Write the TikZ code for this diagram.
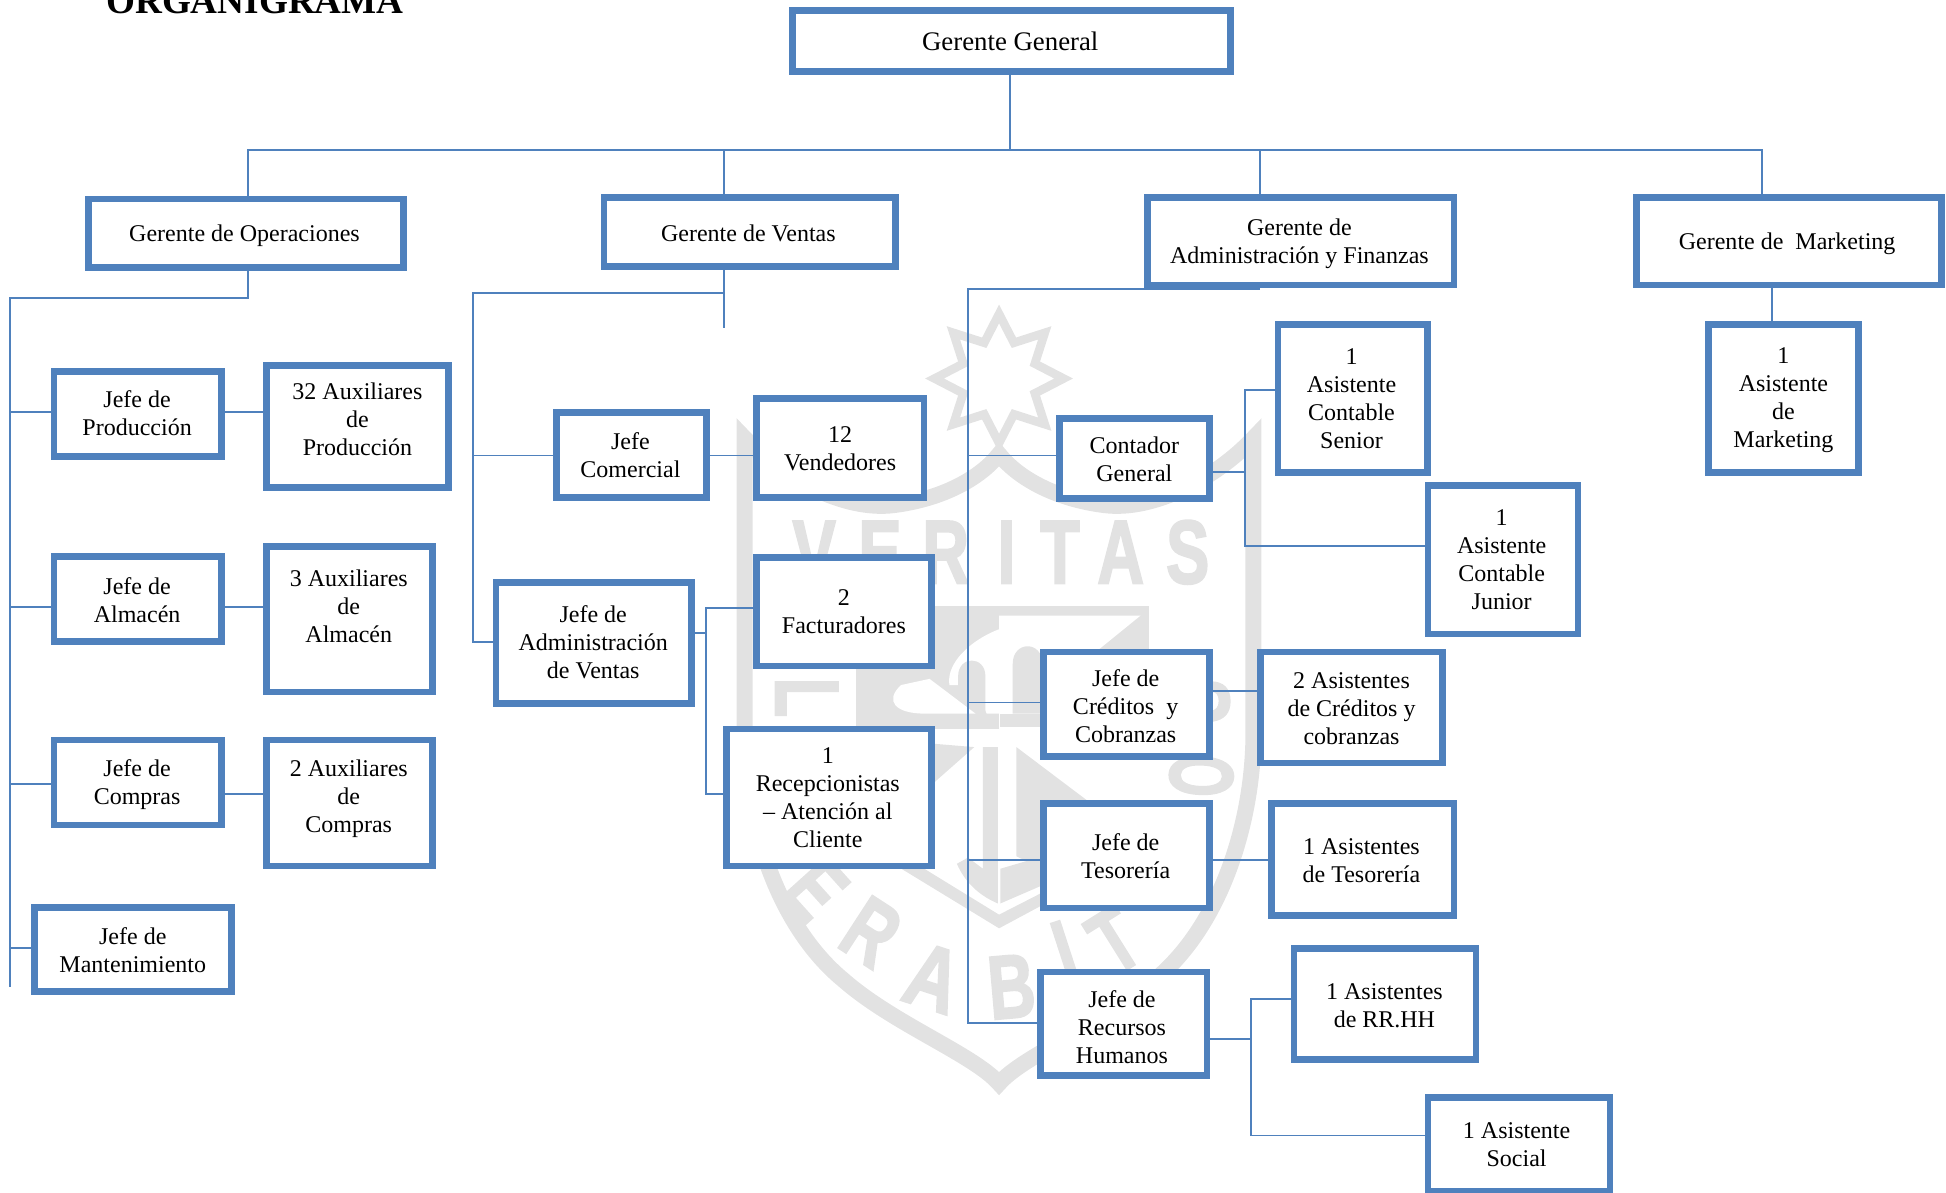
\documentclass[tikz,border=0pt]{standalone}
\usepackage{fontspec}
\setmainfont{Liberation Serif}
\newfontfamily\wmfont{Liberation Sans}[BoldFeatures={FakeBold=2.5}]
\usetikzlibrary{calc}
\definecolor{boxblue}{HTML}{4F81BD}
\definecolor{wmgray}{HTML}{E2E2E2}
\tikzset{
  orgbox/.style={draw=boxblue,line width=3.3pt,fill=white,rectangle,inner sep=0pt,outer sep=0pt},
  orgtext/.style={inner sep=0pt,outer sep=0pt,align=center,text=black,font=\fontsize{12}{14}\selectfont},
  link/.style={draw=boxblue,line width=0.9pt,line join=miter},
  wmline/.style={draw=wmgray,line width=8pt,miter limit=20},
  wmfill/.style={fill=wmgray,draw=none},
  wmwhite/.style={fill=white,draw=none},
  wmletter/.style={text=wmgray,inner sep=0pt,font=\wmfont\bfseries\fontsize{45}{45}\selectfont},
}
% name, left, top, right, bottom, text x, text y, text
\newcommand{\orgbx}[8]{%
  \node[orgbox,minimum width={(#4-#2-1.2)*0.6205pt},minimum height={(#5-#3-0.6)*0.6205pt}] (#1) at ({(#2+#4)/2},{(#3+#5)/2}) {};
  \node[orgtext] (#1t) at (#6,#7+0.7) {#8};
}
\begin{document}
\begin{tikzpicture}[x=0.6205pt,y=-0.6205pt]
\useasboundingbox (0,0) rectangle (1568,960.6);
\clip (0,0) rectangle (1568,960.6);
% ---- watermark ----
\draw[wmline] (600,353) .. controls (630,385) and (680,412) .. (720,407)
  .. controls (760,402) and (790,385) .. (805,366)
  .. controls (820,385) and (850,402) .. (890,407)
  .. controls (930,412) and (980,385) .. (1010,353) -- (1010,590)
  .. controls (1010,660) and (985,745) .. (930,790)
  .. controls (890,825) and (825,850) .. (805,873)
  .. controls (785,850) and (720,825) .. (680,790)
  .. controls (625,745) and (600,660) .. (600,590) -- cycle;
\draw[draw=wmgray,line width=4.3pt,miter limit=10,shift={(805,305)},scale=1.04,shift={(-805,-305)}]
  (805,255) -- (816.5,277.3) -- (840.4,269.6) -- (832.7,293.5) -- (855,305) -- (832.7,316.5) -- (840.4,340.4) -- (816.5,332.7)
  -- (805,355) -- (793.5,332.7) -- (769.6,340.4) -- (777.3,316.5) -- (755,305) -- (777.3,293.5) -- (769.6,269.6) -- (793.5,277.3) -- cycle;
\foreach \n/\px/\py/\r/\l/\sc in {
  a/656/445/0/V/.72, b/709/445/0/E/.72, c/762/445/0/R/.72, d/811/445/0/I/.72, e/854/445/0/T/.72, f/903/445/0/A/.72, g/957/445/0/S/.72,
  h/650/562/-90/L/.72, i/657/717/-48/E/.72, j/702/751/-33/R/.72, k/752/788/-18/A/.8, l/815/795/5/B/.72, m/858/767/18/I/.72, n/898/758/32/T/.72,
  o/968/625/88/O/.6, p/965/565/90/S/.72}
  {\node[wmletter,rotate=\r,xscale=\sc,transform shape] (wm\n) at (\px,\py) {\l};}
% emblem
\fill[wmfill] (690,488) rectangle (926,587);
\fill[wmwhite] (805,496) -- (919,496) -- (850,552) -- (842,600) -- (805,600) -- cycle;
\fill[wmwhite] (805,507) .. controls (792,512) and (780,520) .. (772,530) .. controls (766,538) and (764,545) .. (765,552)
  -- (785,552) -- (795,575) -- (805,575) -- cycle;
\fill[wmfill] (772,575) -- (772,545) .. controls (772,528) and (794,528) .. (794,545) -- (794,575) -- cycle;
\fill[wmwhite] (749,547) -- (786,575) -- (745,575) .. controls (722,575) and (712,565) .. (726,552) -- cycle;
\fill[wmfill] (816,575) -- (816,535) .. controls (816,516) and (840,516) .. (840,535) -- (840,575) -- cycle;
\fill[wmfill] (806,575) rectangle (842,586);
\fill[wmfill] (749,599) -- (785,602) -- (751,632) -- (749,632) -- cycle;
\fill[wmfill] (819,602) -- (880,648) -- (880,690) -- (840,700) -- (819,690) -- cycle;
\fill[wmfill] (792,602) -- (804,602) -- (804,728) .. controls (790,722) and (778,712) .. (771,696) -- (780,691) -- (792,700) -- cycle;
\fill[wmfill] (840,690) -- (843,712) -- (806,728) -- (806,700) -- cycle;
\fill[wmfill] (723,698) -- (805,748) -- (846,726) -- (846,716) -- (805,737) -- (735,694) -- cycle;
% ---- boxes ----
\orgbx{gg}{638}{8}{992}{58}{814}{33}{\fontsize{13.4}{15}\selectfont Gerente General}
\orgbx{gop}{70.5}{160}{325.5}{216}{197}{189.5}{Gerente de Operaciones}
\orgbx{gve}{486}{159}{722}{215}{603}{187.5}{Gerente de Ventas}
\orgbx{gad}{924}{159}{1172}{230}{1047}{196}{Gerente de\\Administración y Finanzas}
\orgbx{gma}{1318}{159}{1565}{230}{1440}{196}{Gerente de\ \ Marketing}
\orgbx{jp}{43}{299}{179}{368}{110.5}{332.5}{Jefe de\\Producción}
\orgbx{axp}{214}{294}{362}{393}{288}{337.5}{32 Auxiliares\\de\\Producción}
\orgbx{ja}{43}{448}{179}{517}{110.5}{482.5}{Jefe de\\Almacén}
\orgbx{axa}{214}{440}{349}{558}{281}{487.5}{3 Auxiliares\\de\\Almacén}
\orgbx{jc}{43}{596}{179}{665}{110.5}{631.5}{Jefe de\\Compras}
\orgbx{axc}{214}{596}{349}{698}{281}{642.5}{2 Auxiliares\\de\\Compras}
\orgbx{jm}{27}{731}{187}{799}{107}{765}{Jefe de\\Mantenimiento}
\orgbx{jcom}{448}{332}{570}{401}{508}{366}{Jefe\\Comercial}
\orgbx{ven}{609}{321}{745}{401}{677}{361}{12\\Vendedores}
\orgbx{jav}{399}{469}{558}{567}{478}{517}{Jefe de\\Administración\\de Ventas}
\orgbx{fac}{609}{449}{751}{537}{680}{492}{2\\Facturadores}
\orgbx{rec}{585}{587}{751}{698}{667}{642}{1\\Recepcionistas\\– Atención al\\Cliente}
\orgbx{cg}{853}{337}{975}{402}{914}{369.5}{Contador\\General}
\orgbx{sen}{1029}{261}{1151}{381}{1089}{320.5}{1\\Asistente\\Contable\\Senior}
\orgbx{jun}{1150}{391}{1272}{511}{1210}{450.5}{1\\Asistente\\Contable\\Junior}
\orgbx{mkt}{1376}{261}{1498}{381}{1437}{322}{1\\Asistente\\de\\Marketing}
\orgbx{jcr}{840}{525}{975}{610}{907}{568.5}{Jefe de\\Créditos\ \ y\\Cobranzas}
\orgbx{acr}{1015}{525}{1163}{615}{1089}{570}{2 Asistentes\\de Créditos y\\cobranzas}
\orgbx{jte}{840}{647}{975}{732}{907}{689.5}{Jefe de\\Tesorería}
\orgbx{ate}{1024}{647}{1172}{738}{1097}{693}{1 Asistentes\\de Tesorería}
\orgbx{jrh}{838}{783}{973}{867}{904}{827}{Jefe de\\Recursos\\Humanos}
\orgbx{arh}{1042}{764}{1190}{854}{1115.5}{809.5}{1 Asistentes\\de RR.HH}
\orgbx{aso}{1150}{884}{1298}{960.5}{1222}{922}{1 Asistente\\Social}
% ---- connectors ----
\coordinate (gvefree) at (583.5,264);
\coordinate (opend) at (8,795);
\draw[link] (gg.south -| 814,0) -- (814,121);
\draw[link] (gop.north -| 200,0) -- (200,121) -- (1420,121) -- (gma.north -| 1420,0);
\draw[link] (gve.north -| 583.5,0) -- (583.5,121);
\draw[link] (gad.north -| 1015,0) -- (1015,121);
\draw[link] (gop.south -| 200,0) -- (200,240) -- (8,240) -- (opend);
\draw[link] (8,332) -- (jp.west |- 0,332);
\draw[link] (8,489) -- (ja.west |- 0,489);
\draw[link] (8,632) -- (jc.west |- 0,632);
\draw[link] (8,764) -- (jm.west |- 0,764);
\draw[link] (jp.east |- 0,332) -- (axp.west |- 0,332);
\draw[link] (ja.east |- 0,489) -- (axa.west |- 0,489);
\draw[link] (jc.east |- 0,640) -- (axc.west |- 0,640);
\draw[link] (gve.south -| 583.5,0) -- (gvefree);
\draw[link] (583.5,236) -- (381,236) -- (381,517) -- (jav.west |- 0,517);
\draw[link] (381,367) -- (jcom.west |- 0,367);
\draw[link] (jcom.east |- 0,367) -- (ven.west |- 0,367);
\draw[link] (jav.east |- 0,510) -- (569,510);
\draw[link] (fac.west |- 0,490) -- (569,490) -- (569,640) -- (rec.west |- 0,640);
\draw[link] (1015,233) -- (780,233) -- (780,824) -- (jrh.west |- 0,824);
\draw[link] (780,367) -- (cg.west |- 0,367);
\draw[link] (780,566) -- (jcr.west |- 0,566);
\draw[link] (780,693) -- (jte.west |- 0,693);
\draw[link] (cg.east |- 0,380) -- (1003,380);
\draw[link] (sen.west |- 0,314) -- (1003,314) -- (1003,440) -- (jun.west |- 0,440);
\draw[link] (jcr.east |- 0,557) -- (acr.west |- 0,557);
\draw[link] (jte.east |- 0,693) -- (ate.west |- 0,693);
\draw[link] (jrh.east |- 0,837) -- (1008,837);
\draw[link] (arh.west |- 0,805) -- (1008,805) -- (1008,915) -- (aso.west |- 0,915);
\draw[link] (gma.south -| 1428,0) -- (mkt.north -| 1428,0);
% ---- title ----
\node[anchor=base,inner sep=0pt,font=\bfseries\fontsize{18.6}{20}\selectfont] (title) at (205.5,11) {ORGANIGRAMA};
\end{tikzpicture}
\end{document}
